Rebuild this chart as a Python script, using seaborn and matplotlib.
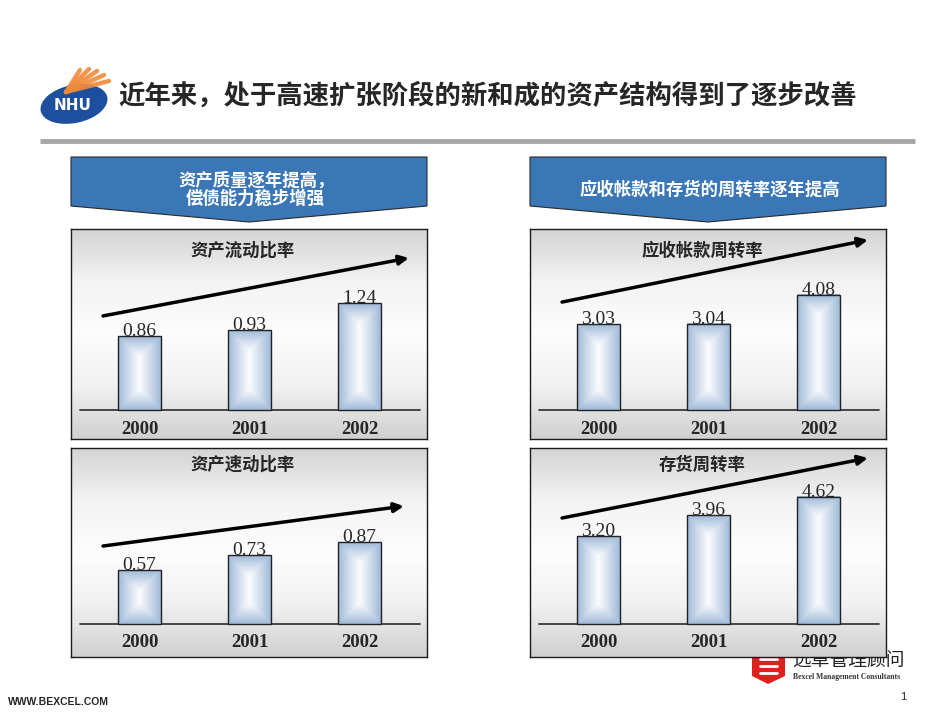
import numpy as np
import pandas as pd
import seaborn as sns
import matplotlib.pyplot as plt
from matplotlib import transforms
from matplotlib.patches import Polygon, Ellipse
from matplotlib.colors import LinearSegmentedColormap

# 数据
years = ['2000', '2001', '2002']
liudong_bilv = [0.86, 0.93, 1.24]     # 资产流动比率
sudong_bilv = [0.57, 0.73, 0.87]      # 资产速动比率
yingshou_zhouzhuan = [3.03, 3.04, 4.08]  # 应收帐款周转率
cunhuo_zhouzhuan = [3.20, 3.96, 4.62]    # 存货周转率

chart_titles = ['资产流动比率', '应收帐款周转率', '资产速动比率', '存货周转率']
main_title = '近年来，处于高速扩张阶段的新和成的资产结构得到了逐步改善'
banner_left = ['资产质量逐年提高，', '偿债能力稳步增强']
banner_right = '应收帐款和存货的周转率逐年提高'

W, H = 950, 713

sns.set_theme(style='white')
plt.rcParams['font.family'] = ['Noto Sans CJK SC', 'DejaVu Sans']

fig = plt.figure(figsize=(9.5, 7.13), dpi=100)

bar_cmap = LinearSegmentedColormap.from_list('bar', ['#fbfcfe', '#cfdcec', '#9fb9d8'])
panel_cmap = LinearSegmentedColormap.from_list(
    'panel', ['#d4d4d4', '#f3f3f3', '#fdfdfd', '#f1f1f1', '#d0d0d0'])


def px_axes(x0, y0, x1, y1):
    return fig.add_axes([x0 / W, 1 - y1 / H, (x1 - x0) / W, (y1 - y0) / H])


def draw_decorations():
    """页面上的标题、横幅、标志等。"""
    bg = px_axes(0, 0, W, H)
    bg.set_xlim(0, W)
    bg.set_ylim(H, 0)
    bg.axis('off')

    # NHU 标志
    for ex, ey in [(80, 70), (89, 69), (97, 71), (104, 75), (109, 81)]:
        bg.plot([66, ex], [92, ey], color='#f08a3c', lw=3.2, solid_capstyle='round', alpha=0.9)
    bg.add_patch(Ellipse((74, 104), 68, 38, angle=-12, facecolor='#1d4f9e', edgecolor='none'))
    bg.text(73, 106, 'NHU', color='white', fontsize=11, fontweight='bold',
            family='DejaVu Sans', ha='center', va='center')

    bg.text(118, 96, main_title, fontsize=19, fontweight='bold', ha='left', va='center')
    bg.plot([40, 915], [141, 141], color='#a6a6a6', lw=3.5, solid_capstyle='butt')

    # 蓝色箭头横幅
    for x0, x1 in [(71, 427), (530, 886)]:
        xm = (x0 + x1) / 2
        bg.add_patch(Polygon([(x0, 157), (x1, 157), (x1, 206), (xm, 222), (x0, 206)],
                             closed=True, facecolor='#3b76b6', edgecolor='#2a2a2a', lw=0.8))
    bg.text(257, 181, banner_left[0], color='white', fontsize=12.5, fontweight='bold',
            ha='center', va='center')
    bg.text(255, 199, banner_left[1], color='white', fontsize=12.5, fontweight='bold',
            ha='center', va='center')
    bg.text(710, 190, banner_right, color='white', fontsize=12.5, fontweight='bold',
            ha='center', va='center')

    # 远卓标志与页脚
    bg.add_patch(Polygon([(752, 650), (785, 650), (785, 676), (768, 684), (752, 676)],
                         closed=True, facecolor='#e0201c', edgecolor='none'))
    for yy in [659, 666, 673]:
        bg.plot([760, 777], [yy, yy], color='white', lw=2)
    bg.text(792, 661, '远卓管理顾问', fontsize=13.5, color='#222222', ha='left', va='center')
    bg.text(793, 677, 'Bexcel Management Consultants', fontsize=5.5, fontweight='bold',
            family='Liberation Serif', color='#333333', ha='left', va='center')
    bg.text(8, 702, 'WWW.BEXCEL.COM', fontsize=7.5, fontweight='bold',
            family='Liberation Sans', ha='left', va='center')
    bg.text(903, 697, '1', fontsize=8, family='Liberation Sans', ha='center', va='center')


def draw_panel(rect, baseline, k, values, title, title_y, year_y, arrow):
    """绘制一个带渐变柱子的小柱状图。"""
    x0, y0, x1, y1 = rect
    ax = px_axes(*rect)

    # 背景渐变
    ax.imshow(np.linspace(0, 1, 200).reshape(-1, 1), cmap=panel_cmap, aspect='auto',
              extent=(0, 1, 0, 1), transform=ax.transAxes, zorder=0)

    df = pd.DataFrame({'year': years, 'value': values})
    sns.barplot(data=df, x='year', y='value', ax=ax, width=0.382, color='#b8cce4',
                edgecolor='#222222', linewidth=1.0, zorder=3)

    ax.set_xlim(-68.5 / 110, (x1 - x0 - 68.5) / 110)
    ax.set_ylim(-(y1 - baseline) / k, (baseline - y0) / k)

    # 柱子渐变填充
    for p in ax.patches:
        bx, bw, bh = p.get_x(), p.get_width(), p.get_height()
        (px0, py0), (px1, py1) = ax.transData.transform([(bx, 0), (bx + bw, bh)])
        wpx, hpx = abs(px1 - px0), abs(py1 - py0)
        nx, ny = max(int(wpx * 2), 2), max(int(hpx * 2), 2)
        xs = (np.arange(nx) + 0.5) / nx * wpx - wpx / 2
        ys = (np.arange(ny) + 0.5) / ny * hpx - hpx / 2
        X, Y = np.meshgrid(xs, ys)
        d = np.maximum(np.abs(X), np.abs(Y) - (hpx - wpx) / 2) / (wpx / 2)
        d = np.clip(d, 0, 1)
        ax.imshow(d, cmap=bar_cmap, vmin=0, vmax=1, extent=(bx, bx + bw, 0, bh),
                  aspect='auto', interpolation='bilinear', zorder=2.5)
        p.set_facecolor('none')

    ax.set_xlim(-68.5 / 110, (x1 - x0 - 68.5) / 110)
    ax.set_ylim(-(y1 - baseline) / k, (baseline - y0) / k)

    ax.axhline(0, xmin=9 / (x1 - x0), xmax=349 / (x1 - x0), color='#3a3a3a', lw=1.3, zorder=2)

    for i, v in enumerate(values):
        ax.text(i, v, f'{v:.2f}', ha='center', va='baseline', fontsize=14,
                family='Liberation Serif', zorder=4)

    trans = transforms.blended_transform_factory(ax.transData, ax.transAxes)
    for i, y in enumerate(years):
        ax.text(i, year_y, y, transform=trans, ha='center', va='center', fontsize=13.5,
                fontweight='bold', family='Liberation Serif')

    ax.text(0.483, title_y, title, transform=ax.transAxes, ha='center', va='center',
            fontsize=12.5, fontweight='bold')

    (ax0, ay0), (ax1, ay1) = arrow
    ax.annotate('', xy=(ax1, ay1), xytext=(ax0, ay0), xycoords='axes fraction',
                arrowprops=dict(arrowstyle='-|>', color='black', lw=2.5,
                                mutation_scale=14, shrinkA=0, shrinkB=0))

    ax.set_xticks([])
    ax.set_yticks([])
    ax.set_xlabel('')
    ax.set_ylabel('')
    for s in ax.spines.values():
        s.set_visible(True)
        s.set_color('#1a1a1a')
        s.set_linewidth(1.0)
    return ax


def main():
    draw_decorations()
    draw_panel((71, 229, 427, 439), 410, 86, liudong_bilv, chart_titles[0],
               0.895, 0.043, ((0.09, 0.586), (0.949, 0.862)))
    draw_panel((530, 229, 886, 439), 410, 28.3, yingshou_zhouzhuan, chart_titles[1],
               0.895, 0.043, ((0.09, 0.652), (0.949, 0.948)))
    draw_panel((71, 448, 427, 657), 624, 94, sudong_bilv, chart_titles[2],
               0.919, 0.067, ((0.09, 0.531), (0.935, 0.722)))
    draw_panel((530, 448, 886, 657), 624, 27.5, cunhuo_zhouzhuan, chart_titles[3],
               0.919, 0.067, ((0.09, 0.665), (0.949, 0.952)))
    fig.savefig('out.png', dpi=100)


if __name__ == '__main__':
    main()
